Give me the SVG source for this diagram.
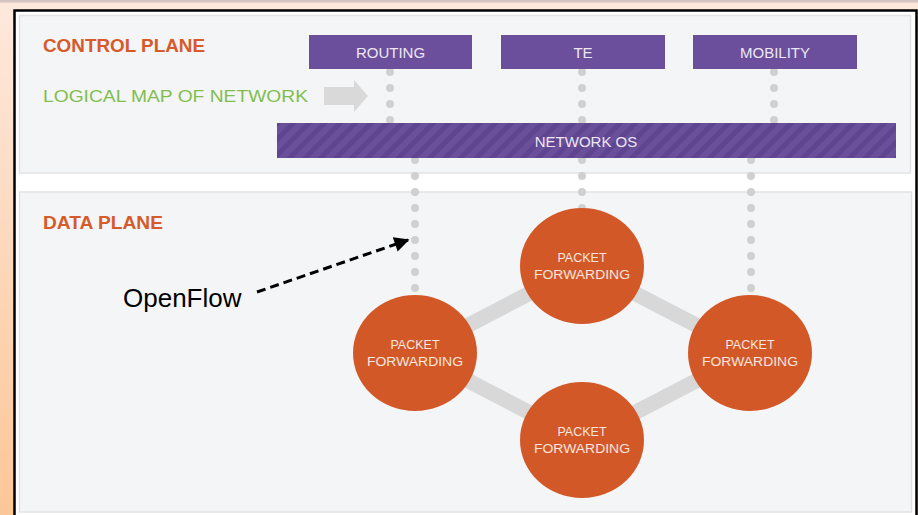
<svg xmlns="http://www.w3.org/2000/svg" width="918" height="515" viewBox="0 0 918 515">
<defs>
<linearGradient id="bg" x1="0" y1="0" x2="0" y2="1">
<stop offset="0" stop-color="#fde9dd"/>
<stop offset="1" stop-color="#fdc698"/>
</linearGradient>
<pattern id="stripes" patternUnits="userSpaceOnUse" width="11" height="11" patternTransform="rotate(45)">
<rect width="11" height="11" fill="#5f4490"/>
<rect width="6" height="11" fill="#6a4f9b"/>
</pattern>
<marker id="ah" viewBox="0 0 10 10" refX="9" refY="5" markerWidth="6" markerHeight="5" orient="auto" markerUnits="strokeWidth">
<path d="M0,0 L10,5 L0,10 z" fill="#000"/>
</marker>
<style>
.panel{fill:#f4f5f7;stroke:#e2e2e2;stroke-width:1.5}
.hdr{font-family:"Liberation Sans",Arial,sans-serif;font-weight:bold;fill:#d65a2a;font-size:18px}
.app{fill:#6b4f9c}
.apptxt{font-family:"Liberation Sans",Arial,sans-serif;fill:#ece7f3;font-size:15px;text-anchor:middle}
.dots{stroke:#d0d0d0;stroke-width:8;stroke-linecap:round;stroke-dasharray:0 16;fill:none}
.link{stroke:#d8d8d8;stroke-width:15;fill:none}
.pf{fill:#d35828}
.pftxt{font-family:"Liberation Sans",Arial,sans-serif;fill:#f6e6df;font-size:12.5px;text-anchor:middle}
</style>
</defs>
<rect x="0" y="0" width="918" height="515" fill="url(#bg)"/>
<rect x="0" y="0" width="918" height="10" fill="#fde8dc"/>
<rect x="0" y="0" width="918" height="2.5" fill="#d3c6c1"/>
<rect x="14.5" y="10.5" width="902" height="520" fill="#ffffff" stroke="#000" stroke-width="2.5"/>
<rect class="panel" x="19.5" y="15.5" width="891" height="157.5"/>
<rect class="panel" x="19.5" y="192" width="892" height="320"/>

<g id="connectors">
<path class="dots" d="M390,72 V121"/>
<path class="dots" d="M582,72 V121"/>
<path class="dots" d="M774,72 V121"/>
<path class="dots" d="M415,160 V290"/>
<path class="dots" d="M582,160 V215"/>
<path class="dots" d="M751,160 V290"/>
<line class="link" x1="415" y1="353" x2="582" y2="266"/>
<line class="link" x1="582" y1="266" x2="750" y2="353"/>
<line class="link" x1="750" y1="353" x2="582" y2="440"/>
<line class="link" x1="582" y1="440" x2="415" y2="353"/>
<path d="M257,292 L408,240" stroke="#000" stroke-width="3" stroke-dasharray="9,5" fill="none" marker-end="url(#ah)"/>
</g>

<g id="control-plane-label"><text class="hdr" x="43" y="52" textLength="162" lengthAdjust="spacingAndGlyphs">CONTROL PLANE</text></g>
<g id="logical-map">
<text x="43" y="102" font-family="Liberation Sans, Arial, sans-serif" font-size="17" fill="#82be4e" textLength="265" lengthAdjust="spacingAndGlyphs">LOGICAL MAP OF NETWORK</text>
<path d="M324,87 H354 V80 L368,96 L354,112 V105 H324 Z" fill="#d9d9d9"/>
</g>
<g id="routing"><rect class="app" x="309" y="35" width="163" height="34"/><text class="apptxt" x="390.5" y="58">ROUTING</text></g>
<g id="te"><rect class="app" x="501" y="35" width="164" height="34"/><text class="apptxt" x="583" y="58">TE</text></g>
<g id="mobility"><rect class="app" x="693" y="35" width="164" height="34"/><text class="apptxt" x="775" y="58">MOBILITY</text></g>
<g id="network-os"><rect x="277" y="123" width="619" height="35" fill="url(#stripes)"/><text class="apptxt" x="586" y="147">NETWORK OS</text></g>

<g id="data-plane-label"><text class="hdr" x="43" y="229" textLength="120" lengthAdjust="spacingAndGlyphs">DATA PLANE</text></g>

<g id="pf-top"><ellipse class="pf" cx="582" cy="266" rx="62" ry="58"/><text class="pftxt" x="582" y="262">PACKET</text><text class="pftxt" x="582" y="279" textLength="96" lengthAdjust="spacingAndGlyphs">FORWARDING</text></g>
<g id="pf-left"><ellipse class="pf" cx="415" cy="353" rx="62" ry="58"/><text class="pftxt" x="415" y="349">PACKET</text><text class="pftxt" x="415" y="366" textLength="96" lengthAdjust="spacingAndGlyphs">FORWARDING</text></g>
<g id="pf-right"><ellipse class="pf" cx="750" cy="353" rx="62" ry="58"/><text class="pftxt" x="750" y="349">PACKET</text><text class="pftxt" x="750" y="366" textLength="96" lengthAdjust="spacingAndGlyphs">FORWARDING</text></g>
<g id="pf-bottom"><ellipse class="pf" cx="582" cy="440" rx="62" ry="58"/><text class="pftxt" x="582" y="436">PACKET</text><text class="pftxt" x="582" y="453" textLength="96" lengthAdjust="spacingAndGlyphs">FORWARDING</text></g>

<g id="openflow"><text x="123" y="307" font-family="Liberation Sans, Arial, sans-serif" font-size="26" fill="#000">OpenFlow</text></g>
</svg>
